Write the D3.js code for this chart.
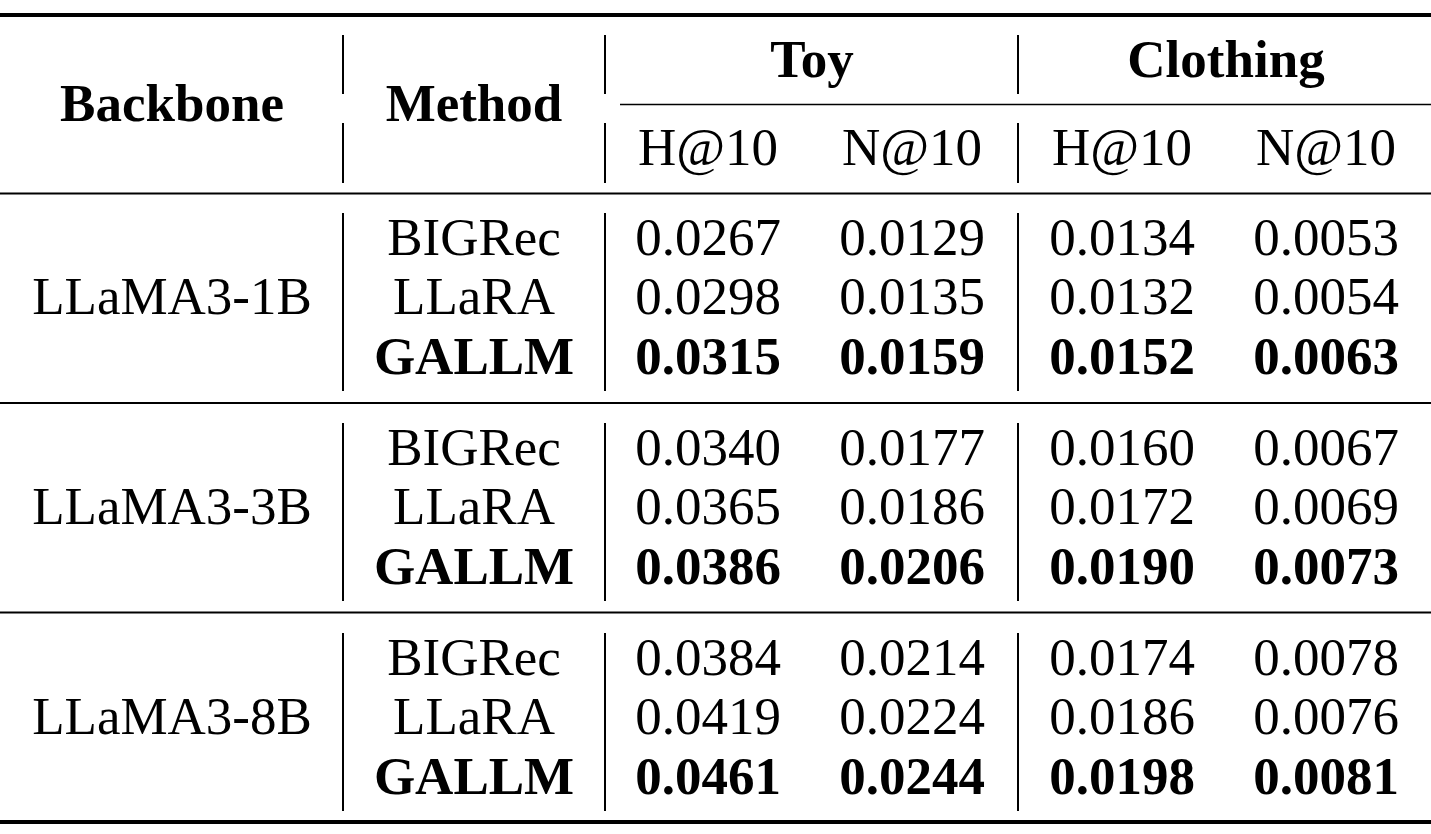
<!DOCTYPE html>
<html lang="en">
<head>
    <meta charset="UTF-8">
    <title>Backbone / Method results</title>
    <style>
        body { margin: 0; background: #fff; }
        text { font-family: "Liberation Serif", "Times New Roman", serif; fill: #000; }
    </style>
    <script src="https://d3js.org/d3.v7.min.js"></script>
</head>
<body>
    <script>
        const backbones = ["LLaMA3-1B", "LLaMA3-3B", "LLaMA3-8B"];
        const methods = ["BIGRec", "LLaRA", "GALLM"];
        const datasets = ["Toy", "Clothing"];
        const metrics = ["H@10", "N@10"];

        // one entry per backbone x method, in row order
        const toyH = ["0.0267", "0.0298", "0.0315", "0.0340", "0.0365", "0.0386", "0.0384", "0.0419", "0.0461"];
        const toyN = ["0.0129", "0.0135", "0.0159", "0.0177", "0.0186", "0.0206", "0.0214", "0.0224", "0.0244"];
        const clothH = ["0.0134", "0.0132", "0.0152", "0.0160", "0.0172", "0.0190", "0.0174", "0.0186", "0.0198"];
        const clothN = ["0.0053", "0.0054", "0.0063", "0.0067", "0.0069", "0.0073", "0.0078", "0.0076", "0.0081"];
        const bestMethod = "GALLM";

        const W = 1431, H = 834;
        const FONT = 53;

        const svg = d3.select("body").append("svg")
            .attr("width", W)
            .attr("height", H);

        // column centres
        const colKeys = ["backbone", "method", "toyH", "toyN", "clothH", "clothN"];
        const x = d3.scaleOrdinal()
            .domain(colKeys)
            .range([172, 474, 708, 912, 1122, 1326]);
        const datasetX = d3.scaleOrdinal().domain(datasets).range([812, 1226]);

        // row baselines: group index and row index inside group
        const groupY = d3.scaleLinear().domain([0, 1]).range([255, 465]);
        const rowStep = 59.3;
        const rowY = (g, r) => groupY(g) + r * rowStep;

        // horizontal rules
        const rules = [
            { y: 15, w: 4, x1: 0, x2: W },
            { y: 193.5, w: 2.2, x1: 0, x2: W },
            { y: 403, w: 2.2, x1: 0, x2: W },
            { y: 612.5, w: 2.2, x1: 0, x2: W },
            { y: 822, w: 4, x1: 0, x2: W },
            { y: 104.5, w: 1.6, x1: 620, x2: W }
        ];
        svg.selectAll("line.rule")
            .data(rules)
            .enter()
            .append("line")
            .attr("class", "rule")
            .attr("x1", d => d.x1)
            .attr("x2", d => d.x2)
            .attr("y1", d => d.y)
            .attr("y2", d => d.y)
            .attr("stroke", "#000")
            .attr("stroke-width", d => d.w);

        // vertical separators, broken at each rule like LaTeX tables
        const sepX = [343, 605, 1018];
        const segs = [];
        sepX.forEach(sx => {
            segs.push({ x: sx, y1: 35, y2: 94 });
            segs.push({ x: sx, y1: 123, y2: 183 });
            backbones.forEach((b, g) => {
                segs.push({ x: sx, y1: groupY(g) - 42, y2: groupY(g) + 136 });
            });
        });
        svg.selectAll("line.sep")
            .data(segs)
            .enter()
            .append("line")
            .attr("class", "sep")
            .attr("x1", d => d.x)
            .attr("x2", d => d.x)
            .attr("y1", d => d.y1)
            .attr("y2", d => d.y2)
            .attr("stroke", "#000")
            .attr("stroke-width", 2);

        // header
        svg.append("text")
            .attr("x", x("backbone")).attr("y", 121)
            .attr("text-anchor", "middle")
            .attr("font-size", FONT).attr("font-weight", "bold")
            .text("Backbone");
        svg.append("text")
            .attr("x", x("method")).attr("y", 121)
            .attr("text-anchor", "middle")
            .attr("font-size", FONT).attr("font-weight", "bold")
            .text("Method");
        svg.selectAll("text.dataset")
            .data(datasets)
            .enter()
            .append("text")
            .attr("class", "dataset")
            .attr("x", d => datasetX(d))
            .attr("y", 77)
            .attr("text-anchor", "middle")
            .attr("font-size", FONT).attr("font-weight", "bold")
            .text(d => d);

        const metricCols = [
            { key: "toyH", label: metrics[0] },
            { key: "toyN", label: metrics[1] },
            { key: "clothH", label: metrics[0] },
            { key: "clothN", label: metrics[1] }
        ];
        svg.selectAll("text.metric")
            .data(metricCols)
            .enter()
            .append("text")
            .attr("class", "metric")
            .attr("x", d => x(d.key))
            .attr("y", 165)
            .attr("text-anchor", "middle")
            .attr("font-size", FONT)
            .text(d => d.label);

        // body
        svg.selectAll("text.backbone")
            .data(backbones)
            .enter()
            .append("text")
            .attr("class", "backbone")
            .attr("x", x("backbone"))
            .attr("y", (d, g) => rowY(g, 1))
            .attr("text-anchor", "middle")
            .attr("font-size", FONT)
            .text(d => d);

        const cols = { toyH, toyN, clothH, clothN };
        const cells = [];
        backbones.forEach((b, g) => {
            methods.forEach((m, r) => {
                const i = g * methods.length + r;
                const bold = m === bestMethod;
                cells.push({ key: "method", g, r, text: m, bold });
                Object.keys(cols).forEach(k => {
                    cells.push({ key: k, g, r, text: cols[k][i], bold });
                });
            });
        });

        svg.selectAll("text.cell")
            .data(cells)
            .enter()
            .append("text")
            .attr("class", "cell")
            .attr("x", d => x(d.key))
            .attr("y", d => rowY(d.g, d.r))
            .attr("text-anchor", "middle")
            .attr("font-size", FONT)
            .attr("font-weight", d => d.bold ? "bold" : "normal")
            .text(d => d.text);
    </script>
</body>
</html>
